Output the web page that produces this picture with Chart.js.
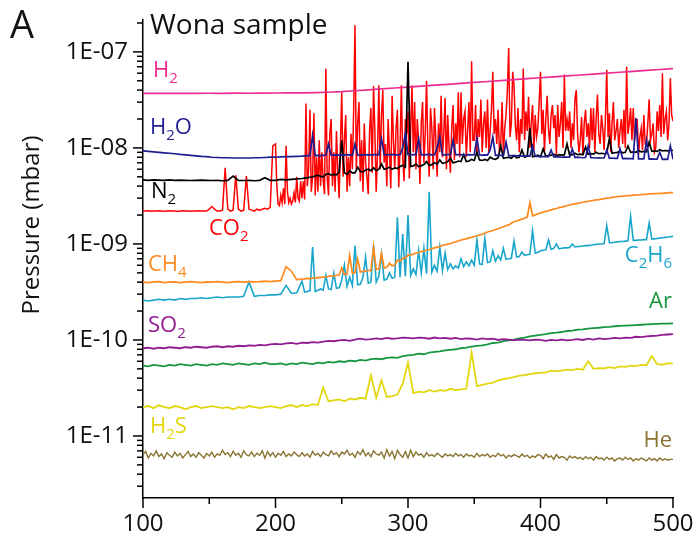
<!doctype html>
<html lang="en">
<head>
<meta charset="utf-8">
<title>Wona sample</title>
<script src="https://cdn.jsdelivr.net/npm/chart.js"></script>
<style>
  body { margin: 0; background: #fff; }
</style>
</head>
<body>
<canvas id="chart" width="698" height="541"></canvas>
<script>
// x sampling grids (time axis)
const xFine = [], xMixed = [], xStep2 = [], xStep4 = [], xStep10 = [];
for (let x = 100; x < 200; x += 2) xFine.push(x);
for (let x = 200; x <= 500; x += 1) xFine.push(x);
for (let x = 100; x <= 220; x += 4) xMixed.push(x);
for (let x = 222; x <= 500; x += 2) xMixed.push(x);
for (let x = 100; x <= 500; x += 2) xStep2.push(x);
for (let x = 100; x <= 500; x += 4) xStep4.push(x);
for (let x = 100; x <= 500; x += 10) xStep10.push(x);

const xTicks = [100, 200, 300, 400, 500];
const xTickLabels = ['100', '200', '300', '400', '500'];
const yTicks = [1e-11, 1e-10, 1e-9, 1e-8, 1e-7];
const yTickLabels = ['1E-11', '1E-10', '1E-09', '1E-08', '1E-07'];

// H2 (mbar), every 10
const h2Vals = [3.70e-8,3.71e-8,3.69e-8,3.70e-8,3.70e-8,3.71e-8,3.70e-8,3.72e-8,3.71e-8,3.72e-8,3.73e-8,3.74e-8,3.75e-8,3.77e-8,3.80e-8,
  3.85e-8,3.94e-8,4.03e-8,4.12e-8,4.21e-8,4.30e-8,4.40e-8,4.50e-8,4.60e-8,4.70e-8,4.81e-8,4.92e-8,5.03e-8,5.14e-8,5.26e-8,
  5.38e-8,5.50e-8,5.62e-8,5.75e-8,5.88e-8,6.01e-8,6.14e-8,6.28e-8,6.42e-8,6.56e-8,6.70e-8];

// CO2 in 1e-9 mbar, on xFine
const co2Nano = [
  2.2,2.2,2.21,2.19,2.2,2.2,2.22,2.2,2.19,2.2,2.21,2.2,2.2,2.18,2.2,2.21,2.2,2.2,2.19,2.2,2.2,2.21,2.2,2.2,2.2,
  2.3,2.45,2.3,2.2,2.2,2.25,6.2,2.3,2.2,2.25,5.2,2.3,2.2,2.25,5.1,2.3,2.25,2.2,2.3,2.25,2.3,2.35,2.3,2.4,10.5,
  11,4.0,2.6,2.5,3.2,2.7,3.8,2.6,10.5,3.5,
  2.7,3.0,2.6,2.8,3.4,2.7,5.0,3.0,2.8,4.5,
  3.0,4.5,2.9,29,4.0,6.0,25,3.5,5.0,23,
  3.2,8.0,3.5,12,4.0,9.0,4.5,3.3,67,5.0,
  3.2,14,20,4.0,9.0,3.5,15,6.0,3.0,11,
  38,5.0,12,22,3.5,8.0,4.0,14,6.0,25,
  190,6.0,18,30,4.5,12,3.5,18,7.0,5.0,
  3.3,15,26,5.5,44,15,3.5,9.0,45,6.0,
  22,40,7.0,11,4.0,20,9.0,3.8,35,12,
  6.0,16,25,3.9,10,45,8.0,4.5,20,14,
  24,4.8,15,45,9.0,30,6.0,20,12,4.2,
  18,30,7.0,14,50,10,5.0,26,16,6.0,
  26,12,5.0,18,9.0,35,8.0,14,33,6.0,
  22,10,5.5,16,28,7.5,18,11,38,8.0,
  38,11,20,24,8.0,15,30,9.0,80,12,
  12,28,8.5,20,13,32,9.0,18,24,10,
  32,9.0,15,25,62,14,20,11,25,9.0,
  11,30,8.5,16,22,40,110,13,18,62,
  45,17,12,26,9.0,20,14,67,12,24,
  15,34,10,18,28,9.5,22,13,16,30,
  62,14,25,9.0,20,35,16,11,22,28,
  16,22,8.5,28,13,18,30,10,58,15,
  20,15,24,10,18,12,32,40,14,9.0,
  12,21,8.5,18,25,13,18,10,26,12,
  26,9.0,20,36,14,11,22,16,9.5,20,
  65,13,23,9.0,18,30,12,15,20,10,
  15,20,11,25,10,70,14,18,26,12,
  26,12,16,20,8.5,13,16,9.5,22,11,
  11,18,32,12,14,18,9.0,10,24,15,
  28,13,60,14,20,24,12,18,53,22,
  19];

// H2O in 1e-9 mbar, on xMixed
const h2oNano = [
  9.3,9.2,9.1,9.0,8.9,8.8,8.7,8.55,8.45,8.35,8.25,8.15,8.1,8.0,7.95,7.9,7.9,7.85,7.85,7.85,7.85,7.9,7.9,7.95,8.0,8.0,8.05,8.1,8.1,8.15,8.2,
  8.25,8.3,8.3,13.5,8.3,8.35,8.3,8.35,8.4,11.0,
  8.4,8.4,8.45,8.4,8.45,8.4,8.5,8.45,8.4,11.0,
  8.45,8.4,8.5,8.45,8.5,8.45,8.5,8.5,8.45,12.5,
  8.5,8.45,8.5,8.55,8.5,8.45,8.5,10.0,14.0,8.5,
  8.45,8.5,8.5,12.5,8.5,8.45,8.5,8.55,8.45,8.5,
  10.0,13.0,8.5,8.45,8.5,8.5,12.0,8.45,8.5,8.5,
  8.4,8.45,8.5,8.45,8.5,12.5,8.45,8.4,8.45,8.4,
  9.5,13.0,8.35,8.4,8.35,8.3,11.5,8.3,8.3,8.3,
  8.25,8.3,8.2,8.25,8.2,8.2,10.5,8.15,8.15,8.1,
  8.1,8.15,8.1,9.5,8.05,8.1,8.05,8.0,8.05,8.0,
  8.0,9.8,7.95,8.0,7.95,7.9,7.95,10.5,7.9,7.9,
  7.85,7.9,7.85,7.85,9.5,7.8,7.85,7.8,7.8,9.8,
  7.75,7.8,7.75,7.75,7.7,20.5,7.7,7.7,7.7,12.0,
  7.65,7.7,7.65,7.65,9.0,7.6,7.65,7.6,10.5,7.6];

// N2 in 1e-9 mbar, on xMixed
const n2Nano = [
  4.65,4.6,4.65,4.62,4.6,4.65,4.6,4.62,4.6,4.58,4.6,4.62,4.6,4.58,4.6,4.55,4.6,5.1,4.6,4.58,4.6,4.55,4.6,4.9,4.6,4.6,4.7,4.65,4.7,4.75,4.8,
  4.85,4.9,4.95,5.0,5.1,5.2,5.05,5.0,5.3,5.4,
  5.2,5.3,5.25,5.6,12.0,5.5,5.3,5.8,5.5,5.5,
  6.3,5.7,5.6,5.9,6.0,5.8,6.2,5.8,6.0,6.8,
  6.0,6.1,6.3,6.0,6.2,6.1,6.4,6.6,6.3,79,
  6.4,6.5,6.8,6.4,6.5,6.7,7.2,6.6,6.7,7.0,
  6.8,7.5,6.9,7.0,7.2,7.8,7.0,7.1,7.3,7.2,
  8.5,7.2,7.3,7.6,7.4,9.0,7.5,7.4,7.6,7.4,
  8.0,7.7,7.6,7.9,10.5,7.8,7.9,8.0,7.8,8.3,
  7.9,8.0,9.5,8.0,8.2,16.0,8.1,8.2,8.4,8.1,
  9.8,8.2,8.3,8.4,8.6,8.3,8.5,8.4,8.5,11.0,
  8.4,8.5,8.8,8.5,8.6,8.5,10.2,8.6,8.7,8.6,
  9.0,8.7,8.8,8.7,8.8,12.5,8.8,8.9,9.0,9.2,
  8.9,9.0,10.5,9.0,9.1,9.0,9.4,9.1,9.2,9.1,
  11.5,9.2,9.3,9.2,9.6,9.3,9.4,9.3,9.5,9.4];

// CH4 in 1e-10 mbar, on xMixed
const ch4Tenth = [
  4.0,3.95,4.02,4.05,3.95,4.0,4.02,3.95,4.0,4.05,4.0,3.95,4.02,4.0,4.05,4.0,3.95,4.02,4.05,4.0,4.05,4.02,4.05,4.1,4.05,4.1,4.15,5.8,5.2,4.25,4.3,
  4.32,4.38,4.36,4.42,4.4,4.48,4.46,4.52,4.55,4.6,
  4.66,4.62,4.72,4.75,5.6,4.8,4.88,7.6,4.95,5.02,
  7.0,5.1,5.18,5.2,5.32,5.25,9.3,5.45,5.5,8.0,
  5.6,5.72,6.3,5.9,6.05,6.8,6.6,7.05,7.2,7.6,
  7.75,7.8,8.05,8.1,8.35,8.4,8.65,8.7,8.95,9.1,
  9.25,9.4,9.65,9.8,9.95,10.1,10.35,10.5,10.75,11.0,
  11.15,11.3,11.55,11.7,11.95,12.1,12.45,12.6,12.95,13.3,
  13.55,13.8,14.15,14.4,14.75,15.1,15.45,15.8,16.4,17.0,
  17.35,17.7,18.15,18.5,19.05,27.0,19.65,20.1,20.55,21.0,
  21.45,21.8,22.25,22.6,23.05,23.4,23.85,24.2,24.65,25.0,
  25.45,25.8,26.15,26.5,26.85,27.2,27.55,27.8,28.15,28.4,
  28.75,29.0,29.35,29.6,29.95,30.2,30.55,30.8,31.05,31.2,
  31.45,31.6,31.85,32.0,32.25,32.3,32.55,32.6,32.85,32.9,
  33.15,33.2,33.35,33.5,33.65,33.7,33.85,34.0,34.15,34.2];

// C2H6 in 1e-10 mbar, on xMixed
const c2h6Tenth = [
  2.6,2.55,2.6,2.65,2.6,2.65,2.6,2.7,2.65,2.7,2.7,2.75,2.7,2.75,2.8,2.75,2.8,2.8,2.8,2.85,4.0,2.85,2.9,2.9,2.95,2.95,3.0,3.7,3.05,3.1,4.1,
  3.15,3.2,3.25,9.3,3.2,3.3,3.4,3.3,4.7,3.4,
  3.35,5.0,3.45,3.5,4.2,6.0,3.6,4.5,3.7,9.6,
  3.75,3.8,4.5,7.3,3.9,4.0,9.6,4.0,4.6,7.9,
  4.2,4.3,5.0,4.4,4.5,19.0,4.5,12.7,4.6,20.0,
  4.7,5.5,4.8,8.5,5.0,9.0,4.9,35.0,5.1,6.0,
  5.2,9.3,5.3,8.0,5.4,6.2,5.5,5.9,5.6,7.0,
  5.8,6.5,5.9,6.8,6.0,11.0,6.2,6.1,11.5,6.4,
  6.5,8.5,6.6,7.5,6.8,9.0,6.9,7.0,7.1,10.7,
  7.3,7.4,8.2,7.6,7.7,7.8,13.7,8.0,8.2,8.5,
  8.6,8.7,11.0,8.8,9.0,10.0,8.9,9.0,9.1,9.1,
  9.2,10.0,9.3,9.4,9.4,9.5,9.6,9.6,9.7,9.8,
  9.9,10.0,10.0,10.1,15.5,10.3,10.3,10.4,10.5,10.6,
  10.6,10.7,10.8,19.5,10.9,10.9,11.0,11.0,11.1,11.1,
  16.5,11.3,11.3,11.4,11.5,11.6,11.7,11.8,11.9,12.0];

// SO2, Ar, H2S (mbar), every 4
const so2Vals = [
  8.2e-11,8.3e-11,8.1e-11,8.3e-11,8.2e-11,8.4e-11,8.3e-11,8.2e-11,8.4e-11,8.3e-11,8.5e-11,8.4e-11,8.3e-11,8.5e-11,8.6e-11,8.4e-11,8.6e-11,8.5e-11,8.7e-11,8.6e-11,8.8e-11,8.7e-11,8.9e-11,8.8e-11,9.0e-11,
  9.1e-11,9.0e-11,9.2e-11,9.3e-11,9.1e-11,9.4e-11,9.3e-11,9.5e-11,9.4e-11,9.6e-11,9.8e-11,9.7e-11,9.9e-11,1.0e-10,9.8e-11,1.01e-10,1.03e-10,1.01e-10,1.02e-10,1.04e-10,1.02e-10,1.05e-10,1.03e-10,1.04e-10,1.06e-10,
  1.05e-10,1.04e-10,1.06e-10,1.05e-10,1.03e-10,1.06e-10,1.04e-10,1.05e-10,1.03e-10,1.05e-10,1.02e-10,1.04e-10,1.03e-10,1.01e-10,1.04e-10,1.02e-10,1.03e-10,1.0e-10,1.02e-10,1.01e-10,9.9e-11,1.01e-10,1.0e-10,9.9e-11,1.01e-10,
  1.0e-10,9.8e-11,1.0e-10,9.9e-11,1.01e-10,9.9e-11,1.0e-10,1.02e-10,1.0e-10,1.03e-10,1.01e-10,1.04e-10,1.02e-10,1.03e-10,1.05e-10,1.04e-10,1.06e-10,1.05e-10,1.08e-10,1.07e-10,1.09e-10,1.1e-10,1.11e-10,1.13e-10,1.14e-10,
  1.15e-10];

const arVals = [
  5.4e-11,5.3e-11,5.5e-11,5.4e-11,5.3e-11,5.5e-11,5.4e-11,5.6e-11,5.5e-11,5.4e-11,5.6e-11,5.5e-11,5.4e-11,5.6e-11,5.5e-11,5.7e-11,5.6e-11,5.5e-11,5.7e-11,5.6e-11,5.5e-11,5.7e-11,5.6e-11,5.8e-11,5.6e-11,
  5.6e-11,5.7e-11,5.5e-11,5.7e-11,5.6e-11,5.8e-11,5.7e-11,5.6e-11,5.8e-11,5.7e-11,5.9e-11,5.8e-11,6.0e-11,5.9e-11,6.1e-11,6.0e-11,6.2e-11,6.1e-11,6.3e-11,6.4e-11,6.3e-11,6.5e-11,6.6e-11,6.5e-11,6.8e-11,
  6.9e-11,7.0e-11,7.2e-11,7.1e-11,7.4e-11,7.5e-11,7.6e-11,7.8e-11,7.9e-11,8.0e-11,8.2e-11,8.3e-11,8.5e-11,8.7e-11,8.8e-11,9.0e-11,9.3e-11,9.4e-11,9.7e-11,9.9e-11,1.01e-10,1.04e-10,1.06e-10,1.09e-10,1.11e-10,
  1.13e-10,1.15e-10,1.18e-10,1.19e-10,1.21e-10,1.24e-10,1.25e-10,1.28e-10,1.29e-10,1.31e-10,1.33e-10,1.34e-10,1.36e-10,1.37e-10,1.39e-10,1.4e-10,1.41e-10,1.42e-10,1.43e-10,1.44e-10,1.45e-10,1.46e-10,1.47e-10,1.48e-10,1.48e-10,
  1.49e-10];

const h2sVals = [
  2.0e-11,2.05e-11,1.95e-11,2.1e-11,2.0e-11,1.95e-11,2.05e-11,2.0e-11,1.9e-11,2.0e-11,2.05e-11,1.95e-11,2.0e-11,2.05e-11,2.0e-11,1.95e-11,2.0e-11,1.9e-11,2.0e-11,1.95e-11,2.05e-11,2.0e-11,1.95e-11,2.0e-11,2.05e-11,
  2.0e-11,1.95e-11,2.05e-11,2.1e-11,2.0e-11,2.1e-11,2.05e-11,2.15e-11,2.1e-11,3.2e-11,2.3e-11,2.35e-11,2.4e-11,2.3e-11,2.45e-11,2.4e-11,2.5e-11,2.45e-11,4.3e-11,2.5e-11,3.8e-11,2.55e-11,2.6e-11,2.7e-11,3.5e-11,
  5.8e-11,2.8e-11,2.9e-11,2.85e-11,3.0e-11,2.9e-11,3.0e-11,2.95e-11,3.1e-11,3.0e-11,3.05e-11,3.1e-11,7.4e-11,3.3e-11,3.4e-11,3.5e-11,3.6e-11,3.8e-11,3.9e-11,4.0e-11,4.1e-11,4.25e-11,4.3e-11,4.4e-11,4.5e-11,
  4.55e-11,4.6e-11,4.8e-11,4.7e-11,4.8e-11,4.9e-11,4.85e-11,5.0e-11,4.9e-11,6.0e-11,5.0e-11,5.1e-11,5.05e-11,5.2e-11,5.1e-11,5.3e-11,5.25e-11,5.4e-11,5.35e-11,5.5e-11,5.45e-11,6.8e-11,5.6e-11,5.55e-11,5.7e-11,
  5.7e-11];

// He in 1e-12 mbar, every 2
const heMilli = [
  6.4,6.9,5.9,6.6,6.2,7.0,6.1,6.5,5.8,6.7,
  6.3,6.0,6.8,6.2,6.6,5.9,6.4,6.9,6.1,6.5,
  6.0,6.7,6.3,5.9,6.6,6.2,6.8,6.0,6.5,6.3,
  7.1,6.4,6.7,6.1,6.9,6.3,6.6,6.0,7.0,6.4,
  6.2,6.8,6.1,6.6,6.3,7.0,5.9,6.9,6.2,6.7,
  6.0,6.6,6.3,6.9,6.1,6.5,6.2,6.8,6.4,6.1,
  6.7,6.2,6.5,6.0,6.9,6.3,6.6,6.1,6.8,6.4,
  6.2,7.0,6.4,6.7,6.1,6.8,6.5,7.1,6.3,6.6,
  6.0,6.9,6.4,7.2,6.2,6.7,6.1,7.0,6.5,6.3,
  6.8,5.9,7.2,6.2,6.9,5.8,7.1,6.4,6.0,6.9,
  5.9,7.1,6.1,6.8,6.3,6.5,6.0,6.7,6.2,6.4,
  6.1,6.6,6.3,6.0,6.5,6.2,6.4,6.1,6.6,6.2,
  6.4,6.0,6.5,6.2,6.3,6.0,6.6,6.1,6.4,6.2,
  6.5,6.0,6.3,6.1,6.6,6.2,6.4,5.9,6.3,6.1,
  6.4,6.2,6.0,6.5,6.1,6.3,5.9,6.2,6.0,6.4,
  6.3,5.8,6.5,6.0,6.2,5.7,6.4,5.9,6.1,6.0,
  5.6,6.2,5.9,6.1,5.8,6.0,5.7,6.1,5.8,6.0,
  5.6,6.1,5.8,5.9,5.6,6.0,5.7,5.9,5.5,5.8,
  5.9,5.6,6.0,5.7,5.9,5.5,5.8,5.6,5.9,5.7,
  5.5,5.9,5.6,5.8,5.5,5.9,5.6,5.8,5.6,5.7,
  5.7];

const co2Vals = co2Nano.map(v => v * 1e-9);
const h2oVals = h2oNano.map(v => v * 1e-9);
const n2Vals = n2Nano.map(v => v * 1e-9);
const ch4Vals = ch4Tenth.map(v => v * 1e-10);
const c2h6Vals = c2h6Tenth.map(v => v * 1e-10);
const heVals = heMilli.map(v => v * 1e-12);

const seriesNames  = ['H_2O', 'N_2', 'H_2', 'CO_2', 'CH_4', 'C_2H_6', 'SO_2', 'Ar', 'H_2S', 'He'];
const seriesColors = ['#1f1c8f', '#000000', '#ec2c8f', '#ff0000', '#ff8a1e', '#1aa6cc', '#8f1d91', '#16973f', '#e2d60f', '#8a7431'];
const seriesX      = [xMixed, xMixed, xStep10, xFine, xMixed, xMixed, xStep4, xStep4, xStep4, xStep2];
const seriesY      = [h2oVals, n2Vals, h2Vals, co2Vals, ch4Vals, c2h6Vals, so2Vals, arVals, h2sVals, heVals];
const seriesWidth  = [1.7, 1.7, 1.7, 1.5, 1.7, 1.6, 1.8, 1.8, 1.8, 1.4];
// label anchors in pixels: [x, baseline, right-aligned?]
const labelPos = [[150, 134, false], [151, 198, false], [153, 77, false], [209, 235, false], [148, 271, false],
                  [672, 262, true], [148, 332, false], [672, 308, true], [150, 433, false], [672, 447, true]];

const FONT = '"Open Sans", "Noto Sans", sans-serif';

function drawChem(ctx, label, x, y, color, alignRight) {
  const parts = [];
  for (let i = 0; i < label.length; i++) {
    if (label[i] === '_') { parts.push({ t: label[i + 1], sub: true }); i++; }
    else parts.push({ t: label[i], sub: false });
  }
  const big = '22px ' + FONT, small = '15px ' + FONT;
  let w = 0;
  parts.forEach(p => { ctx.font = p.sub ? small : big; w += ctx.measureText(p.t).width; });
  let cx = alignRight ? x - w : x;
  ctx.fillStyle = color;
  ctx.textAlign = 'left';
  ctx.textBaseline = 'alphabetic';
  parts.forEach(p => {
    ctx.font = p.sub ? small : big;
    ctx.fillText(p.t, cx, p.sub ? y + 6 : y);
    cx += ctx.measureText(p.t).width;
  });
}

const decor = {
  id: 'decor',
  afterDraw(chart) {
    const ctx = chart.ctx, xs = chart.scales.x, ys = chart.scales.y, area = chart.chartArea;
    ctx.save();
    ctx.strokeStyle = '#000';
    ctx.lineWidth = 1.5;
    // x tick marks, minor every 50
    for (let v = 100; v <= 500; v += 50) {
      const px = xs.getPixelForValue(v);
      const len = v % 100 === 0 ? 10 : 6;
      ctx.beginPath(); ctx.moveTo(px, area.bottom); ctx.lineTo(px, area.bottom + len); ctx.stroke();
    }
    // y tick marks, log minors
    for (let d = -12; d <= -7; d++) {
      for (let m = 1; m <= 9; m++) {
        const v = m * Math.pow(10, d);
        if (v < ys.min || v > ys.max) continue;
        const py = ys.getPixelForValue(v);
        const len = m === 1 ? 10 : 6;
        ctx.beginPath(); ctx.moveTo(area.left - len, py); ctx.lineTo(area.left, py); ctx.stroke();
      }
    }
    // titles
    ctx.fillStyle = '#111';
    ctx.textAlign = 'left';
    ctx.textBaseline = 'alphabetic';
    ctx.font = '38px ' + FONT;
    ctx.fillText('A', 10, 38);
    ctx.font = '28px ' + FONT;
    ctx.fillText('Wona sample', 150, 34);
    ctx.save();
    ctx.translate(39, 225);
    ctx.rotate(-Math.PI / 2);
    ctx.textAlign = 'center';
    ctx.font = '24px ' + FONT;
    ctx.fillText('Pressure (mbar)', 0, 0);
    ctx.restore();
    // series labels
    seriesNames.forEach((n, i) => {
      const p = labelPos[i];
      drawChem(ctx, n, p[0], p[1], seriesColors[i], p[2]);
    });
    ctx.restore();
  }
};

new Chart(document.getElementById('chart'), {
  type: 'line',
  data: {
    datasets: seriesNames.map((n, i) => ({
      label: n,
      data: seriesX[i].map((x, j) => ({ x: x, y: seriesY[i][j] })),
      borderColor: seriesColors[i],
      borderWidth: seriesWidth[i],
      pointRadius: 0,
      tension: 0,
      fill: false
    }))
  },
  options: {
    responsive: false,
    animation: false,
    devicePixelRatio: 1,
    layout: { padding: { left: 0, right: 25, top: 12, bottom: 0 } },
    plugins: { legend: { display: false }, tooltip: { enabled: false } },
    scales: {
      x: {
        type: 'linear',
        min: 100,
        max: 500,
        afterBuildTicks: s => { s.ticks = xTicks.map(v => ({ value: v })); },
        afterFit: s => { s.height = 43; },
        ticks: {
          callback: (v, i) => xTickLabels[i],
          font: { family: FONT, size: 24 },
          color: '#111',
          padding: 2,
          maxRotation: 0,
          autoSkip: false
        },
        grid: { drawOnChartArea: false, drawTicks: true, tickLength: 10, color: 'rgba(0,0,0,0)' },
        border: { display: true, color: '#000', width: 1.5 }
      },
      y: {
        type: 'logarithmic',
        min: 2.26e-12,
        max: 2.18e-7,
        afterBuildTicks: s => { s.ticks = yTicks.map(v => ({ value: v })); },
        afterFit: s => { s.width = 143; },
        ticks: {
          callback: (v, i) => yTickLabels[i],
          font: { family: FONT, size: 24 },
          color: '#111',
          padding: 5,
          autoSkip: false
        },
        grid: { drawOnChartArea: false, drawTicks: true, tickLength: 10, color: 'rgba(0,0,0,0)' },
        border: { display: true, color: '#000', width: 1.5 }
      }
    }
  },
  plugins: [decor]
});
</script>
</body>
</html>
